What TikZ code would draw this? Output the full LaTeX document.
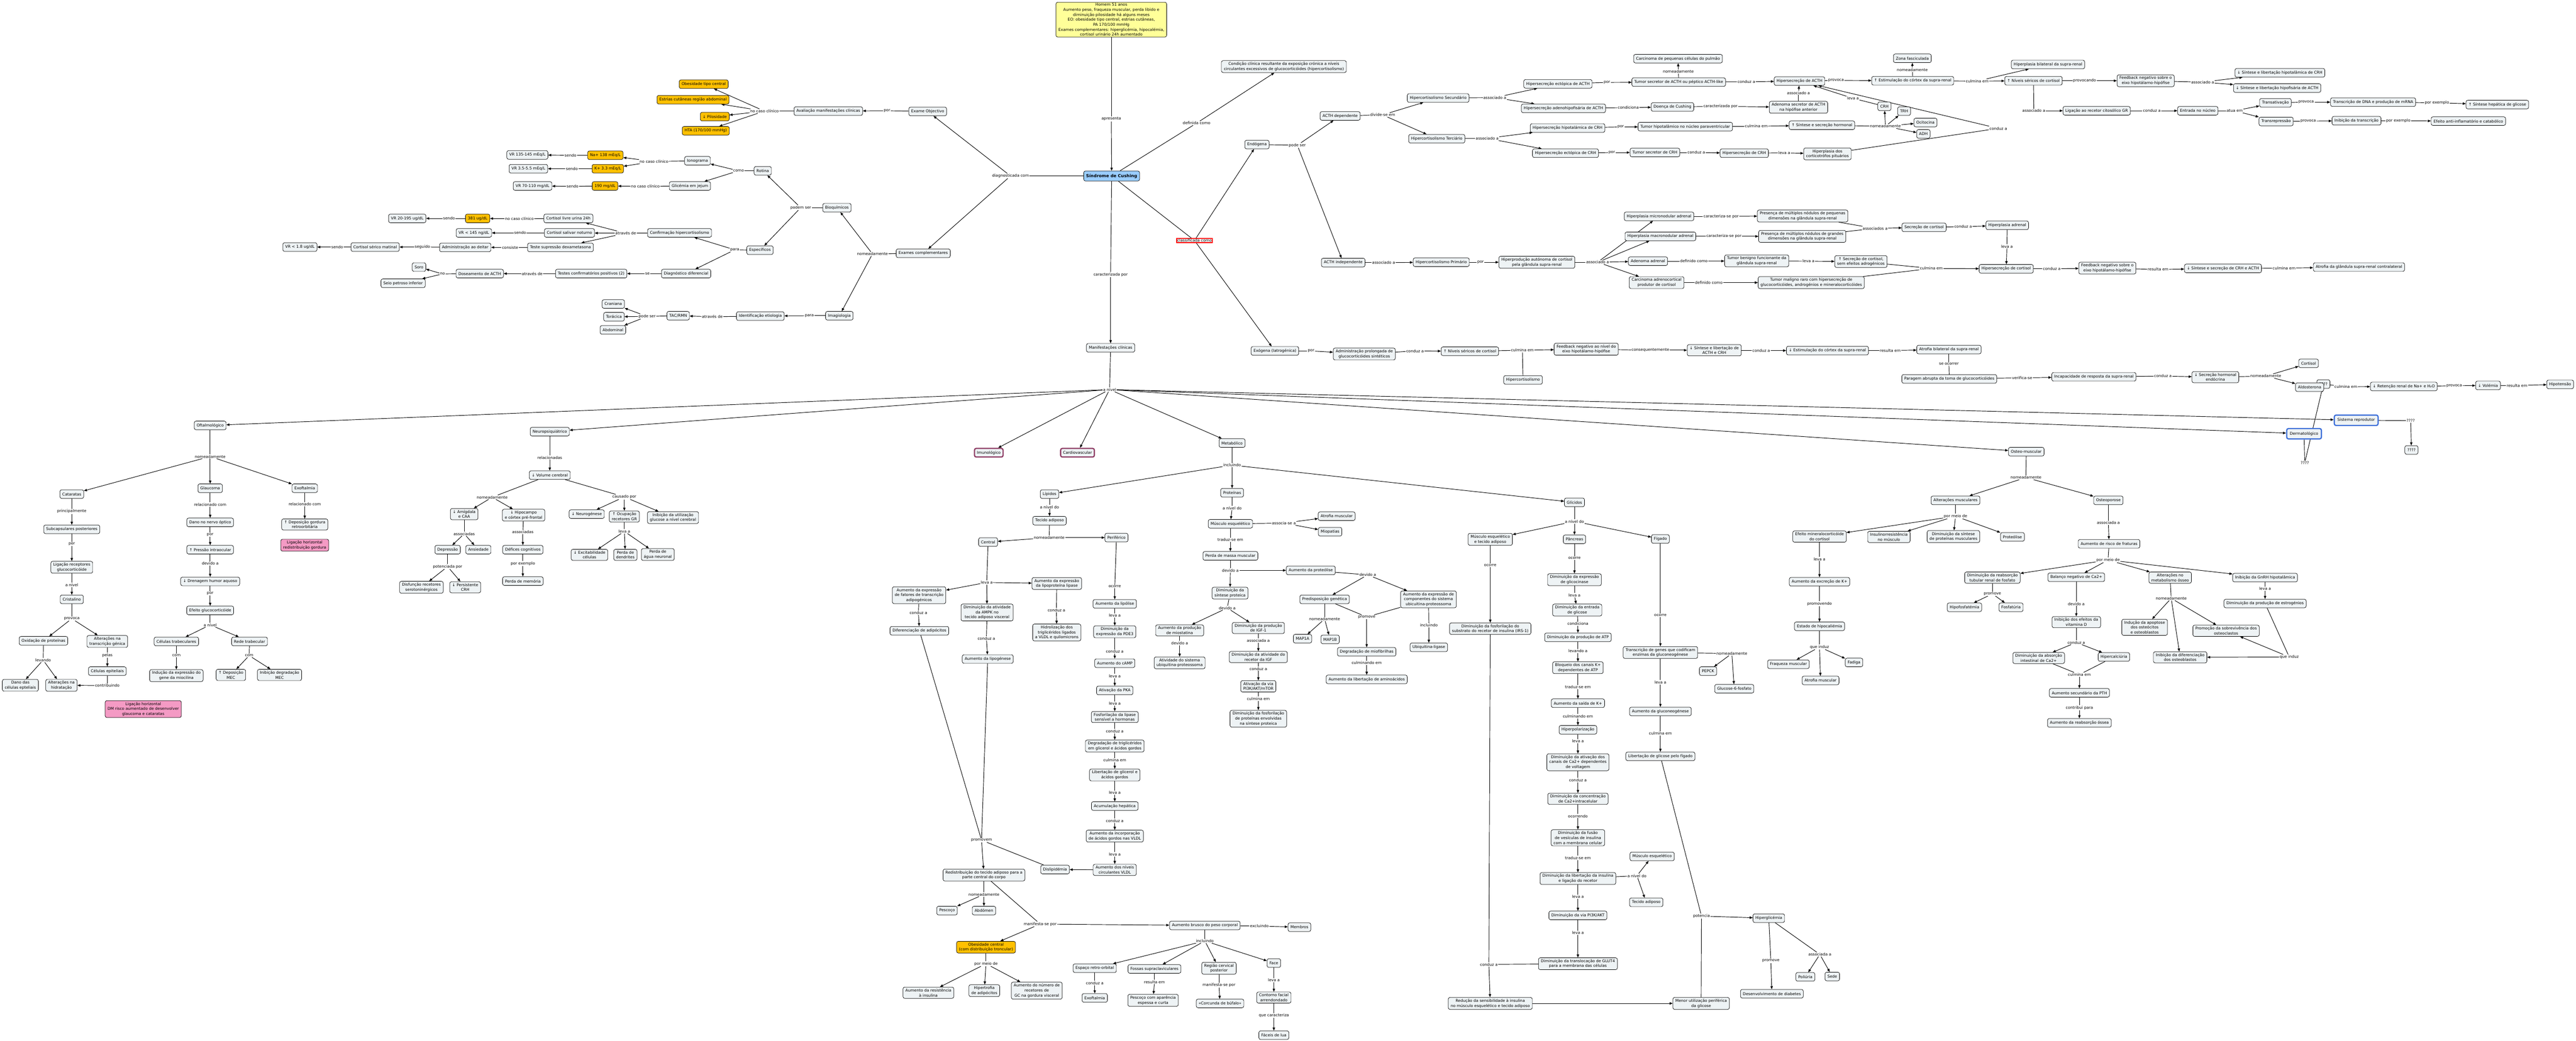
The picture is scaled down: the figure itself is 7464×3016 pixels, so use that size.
\documentclass[tikz,border=0pt]{standalone}
\usepackage{fontspec}
\setmainfont{DejaVu Sans}
\usetikzlibrary{arrows.meta}
\definecolor{cfill}{HTML}{EEF3F5}
\definecolor{cyel}{HTML}{FFC000}
\definecolor{ccase}{HTML}{FFFF99}
\definecolor{cblue}{HTML}{99CCFF}
\definecolor{cpink}{HTML}{F49AC4}
\definecolor{cpurp}{HTML}{8E3B63}
\definecolor{cbord}{HTML}{3D6FD9}
\pgfdeclarelayer{bg}\pgfsetlayers{bg,main}
\newcommand\mylink[3]{\draw (#1) -- (#2);\foreach \tgt in {#3}{\draw[ar] (#2) -- (\tgt);}}
\newcommand\myline[2]{\foreach \src in {#1}{\draw (\src) -- (#2);}}
\tikzset{
 every node/.style={font=\fontsize{3.2}{4.1}\selectfont, text=black},
 c/.style={draw, rounded corners=0.05cm, fill=cfill, inner xsep=0.07cm, inner ysep=0.045cm, minimum height=0.25cm, align=center, line width=0.3pt},
 yel/.style={c, fill=cyel},
 pk/.style={c, fill=cpink},
 pur/.style={c, draw=cpurp, line width=1pt},
 blu/.style={c, draw=cbord, line width=1pt, inner xsep=0.09cm, minimum height=0.3cm},
 lb/.style={inner sep=0.012cm, fill=white, align=center},
 ar/.style={-{Triangle[length=0.09cm,width=0.07cm]}},
}
\begin{document}
\begin{tikzpicture}[x=0.01cm,y=-0.01cm,line width=0.28pt]
\useasboundingbox (0,0) rectangle (7464,3016);
\begin{pgfonlayer}{bg}\fill[white] (0,0) rectangle (7464,3016);\end{pgfonlayer}
% ---------- top centre
\node[c, fill=ccase, inner ysep=0.03cm] (case) at (3220,57) {Homem 51 anos\\Aumento peso, fraqueza muscular, perda libido e\\diminuição pilosidade há alguns meses\\EO: obesidade tipo central, estrias cutâneas,\\PA 170/100 mmHg\\Exames complementares: hiperglicémia, hipocalémia,\\cortisol urinário 24h aumentado};
\node[c, fill=cblue, font=\fontsize{3.5}{4.2}\selectfont\bfseries, minimum height=0.29cm] (sc) at (3221,510) {Síndrome de Cushing};
\node[c] (cond) at (3720,193) {Condição clínica resultante da exposição crónica a níveis\\circulantes excessivos de glucocorticóides (hipercortisolismo)};
\node[lb] (Lapr) at (3220,345) {apresenta};
\node[lb] (Ldef) at (3467,357) {definida como};
\node[lb] (Ldiag) at (2928,510) {diagnosticada com};
\node[lb, draw=red, line width=0.9pt] (Lclass) at (3461,697) {classificada como};
\node[lb] (Lcar) at (3218,796) {caracterizada por};
\node[c] (manif) at (3218,1008) {Manifestações clínicas};
\node[lb] (Laniv) at (3215,1129) {a nível};
% ---------- diagnosis
\node[c] (examobj) at (2688,323) {Exame Objectivo};
\node[c] (examcomp) at (2675,734) {Exames complementares};
\node[lb] (Lpor0) at (2570,321) {por};
\node[c] (avalia) at (2400,322) {Avaliação manifestações clínicas};
\node[lb] (Lncc0) at (2215,322) {no caso clínico};
\node[yel] (obes) at (2039,244) {Obesidade tipo central};
\node[yel] (estr) at (2008,289) {Estrias cutâneas região abdominal};
\node[yel] (pilo) at (2071,338) {↓ Pilosidade};
\node[yel] (hta) at (2045,379) {HTA (170/100 mmHg)};
\node[lb] (Lnomd) at (2528,736) {nomeadamente};
\node[c] (bioq) at (2425,602) {Bioquímicos};
\node[c] (imag) at (2432,915) {Imagiologia};
\node[lb] (Lpodem) at (2320,602) {podem ser};
\node[c] (rotina) at (2210,495) {Rotina};
\node[c] (espec) at (2202,725) {Específicos};
\node[lb] (Lcomo) at (2140,495) {como};
\node[c] (iono) at (2021,466) {Ionograma};
\node[c] (glic) at (1999,539) {Glicémia em jejum};
\node[lb] (Lncc1) at (1895,468) {no caso clínico};
\node[yel] (na) at (1754,450) {Na+ 138 mEq/L};
\node[yel] (kk) at (1761,489) {K+ 3.3 mEq/L};
\node[lb] (Ls1) at (1653,450) {sendo};
\node[c] (vrna) at (1528,449) {VR 135-145 mEq/L};
\node[lb] (Ls2) at (1657,489) {sendo};
\node[c] (vrk) at (1531,489) {VR 3.5-5.5 mEq/L};
\node[lb] (Lncc2) at (1870,540) {no caso clínico};
\node[yel] (g190) at (1753,539) {190 mg/dL};
\node[lb] (Ls3) at (1659,540) {sendo};
\node[c] (vrg) at (1543,539) {VR 70-110 mg/dL};
\node[lb] (Lpara1) at (2129,724) {para};
\node[c] (confh) at (1969,675) {Confirmação hipercortisolismo};
\node[c] (diagd) at (1988,793) {Diagnóstico diferencial};
\node[lb] (Latr1) at (1813,676) {através de};
\node[c] (clu) at (1647,633) {Cortisol livre urina 24h};
\node[c] (csn) at (1650,675) {Cortisol salivar noturno};
\node[c] (tsd) at (1624,717) {Teste supressão dexametasona};
\node[lb] (Lncc3) at (1505,634) {no caso clínico};
\node[yel] (c381) at (1384,633) {381 ug/dL};
\node[lb] (Ls4) at (1301,633) {sendo};
\node[c] (vr20) at (1180,633) {VR 20-195 ug/dL};
\node[lb] (Ls5) at (1507,675) {sendo};
\node[c] (vr145) at (1373,675) {VR < 145 ng/dL};
\node[lb] (Lcons) at (1478,717) {consiste};
\node[c] (adm) at (1348,717) {Administração ao deitar};
\node[lb] (Lseg) at (1224,716) {seguido};
\node[c] (csm) at (1087,716) {Cortisol sérico matinal};
\node[lb] (Ls6) at (977,716) {sendo};
\node[c] (vr18) at (869,716) {VR < 1.8 ug/dL};
\node[lb] (Lse) at (1876,793) {se};
\node[c] (tcp) at (1713,793) {Testes confirmatórios positivos (2)};
\node[lb] (Latr2) at (1542,793) {através de};
\node[c] (dacth) at (1390,793) {Doseamento de ACTH};
\node[lb] (Lno) at (1282,794) {no};
\node[c] (soro) at (1214,774) {Soro};
\node[c] (seio) at (1168,821) {Seio petroso inferior};
\node[lb] (Lpara2) at (2345,915) {para};
\node[c] (idet) at (2203,916) {Identificação etiologia};
\node[lb] (Latr3) at (2064,918) {através de};
\node[c] (tac) at (1965,915) {TAC/RMN};
\node[lb] (Lpode2) at (1875,917) {pode ser};
\node[c] (cran) at (1777,881) {Craniana};
\node[c] (tora) at (1779,918) {Torácica};
\node[c] (abdo) at (1776,956) {Abdominal};
% ---------- classification
\node[c] (endo) at (3642,419) {Endógena};
\node[lb] (Lpode1) at (3759,421) {pode ser};
\node[c] (acthd) at (3883,336) {ACTH dependente};
\node[c] (acthi) at (3892,761) {ACTH independente};
\node[c] (exo) at (3694,1017) {Exógena (Iatrogénica)};
\node[lb] (Ldiv) at (4006,333) {divide-se em};
\node[c] (hsec) at (4167,284) {Hipercortisolismo Secundário};
\node[c] (hter) at (4163,402) {Hipercortisolismo Terciário};
\node[lb] (Las1) at (4331,283) {associado a};
\node[c] (hea) at (4514,243) {Hipersecreção ectópica de ACTH};
\node[c] (hah) at (4530,314) {Hipersecreção adenohipofisária de ACTH};
\node[lb] (Lpor1) at (4656,239) {por};
\node[c] (tsa) at (4864,238) {Tumor secretor de ACTH ou péptico ACTH-like};
\node[lb] (Lnom1) at (4863,207) {nomeadamente};
\node[c] (carc) at (4862,170) {Carcinoma de pequenas células do pulmão};
\node[lb] (Lcz1) at (5060,237) {conduz a};
\node[c] (hacth) at (5214,235) {Hipersecreção de ACTH};
\node[lb] (Lprov) at (5320,233) {provoca};
\node[c] (estc) at (5542,234) {↑ Estimulação do córtex da supra-renal};
\node[lb] (Lnom2) at (5541,202) {nomeadamente};
\node[c] (zf) at (5541,169) {Zona fasciculada};
\node[lb] (Lcul1) at (5729,235) {culmina em};
\node[c] (hbil) at (5934,187) {Hiperplasia bilateral da supra-renal};
\node[c] (nsc) at (5892,234) {↑ Níveis séricos de cortisol};
\node[lb] (Lcond) at (4718,312) {condiciona};
\node[c] (dcush) at (4846,310) {Doença de Cushing};
\node[lb] (Lcarp) at (4985,308) {caracterizada por};
\node[c] (adsec) at (5211,311) {Adenoma secretor de ACTH\\na hipófise anterior};
\node[lb] (Las2) at (5211,269) {associado a};
\node[lb] (Las3) at (4309,401) {associado a};
\node[c] (hhc) at (4542,371) {Hipersecreção hipotalámica de CRH};
\node[c] (hec) at (4536,444) {Hipersecreção ectópica de CRH};
\node[lb] (Lpor2) at (4696,368) {por};
\node[c] (thip) at (4883,367) {Tumor hipotalâmico no núcleo paraventricular};
\node[lb] (Lcul2) at (5089,366) {culmina em};
\node[c] (ssh) at (5279,363) {↑ Síntese e secreção hormonal};
\node[lb] (Lnom3) at (5463,366) {nomeadamente};
\node[c] (crh) at (5460,308) {CRH};
\node[c] (trh) at (5517,322) {TRH};
\node[c] (oci) at (5579,355) {Ocitocina};
\node[c] (adh) at (5573,388) {ADH};
\node[lb] (Lleva1) at (5369,285) {leva a};
\node[lb] (Lpor3) at (4670,442) {por};
\node[c] (tsc) at (4795,442) {Tumor secretor de CRH};
\node[lb] (Lcz2) at (4915,442) {conduz a};
\node[c] (hcrh) at (5054,444) {Hipersecreção de CRH};
\node[lb] (Lleva2) at (5170,443) {leva a};
\node[c] (hcort) at (5295,446) {Hiperplasia dos\\corticotrófos pituários};
\node[lb] (Lcz3) at (5790,372) {conduz a};
% right top
\node[lb] (Lprovd) at (6040,234) {provocando};
\node[c] (fbn1) at (6217,234) {Feedback negativo sobre o\\eixo hipotálamo-hipófise};
\node[lb] (Las4) at (6382,238) {associado a};
\node[c] (scrh) at (6606,211) {↓ Síntese e libertação hipotalâmica de CRH};
\node[c] (sacth) at (6598,255) {↓ Síntese e libertação hipofisária de ACTH};
\node[lb] (Las5) at (5893,321) {associado a};
\node[c] (lgr) at (6075,321) {Ligação ao recetor citosólico GR};
\node[lb] (Lcz4) at (6235,321) {conduz a};
\node[c] (ent) at (6368,321) {Entrada no núcleo};
\node[lb] (Latua) at (6475,321) {atua em};
\node[c] (tat) at (6593,298) {Transativação};
\node[c] (trep) at (6595,352) {Transrepressão};
\node[lb] (Lprov2) at (6682,296) {provoca};
\node[c] (tdna) at (6876,296) {Transcrição de DNA e produção de mRNA};
\node[lb] (Lpex1) at (7061,298) {por exemplo};
\node[c] (shg) at (7236,303) {↑ Síntese hepática de glicose};
\node[lb] (Lprov3) at (6688,351) {provoca};
\node[c] (itr) at (6828,350) {Inibição da transcrição};
\node[lb] (Lpex2) at (6949,350) {por exemplo};
\node[c] (efai) at (7152,351) {Efeito anti-inflamatório e catabólico};
% ACTH independente
\node[lb] (Las6) at (4009,761) {associado a};
\node[c] (hprim) at (4176,760) {Hipercortisolismo Primário};
\node[lb] (Lpor4) at (4290,760) {por};
\node[c] (hauto) at (4453,760) {Hiperprodução autónoma de cortisol\\pela glândula supra-renal};
\node[lb] (Las7) at (4629,760) {associado a};
\node[c] (hmic) at (4807,627) {Hiperplasia micronodular adrenal};
\node[c] (hmac) at (4811,685) {Hiperplasia macronodular adrenal};
\node[c] (adad) at (4775,757) {Adenoma adrenal};
\node[c] (carad) at (4800,819) {Carcinoma adrenocortical\\produtor de cortisol};
\node[lb] (Lcp1) at (4987,627) {caracteriza-se por};
\node[c] (pmp) at (5223,626) {Presença de múltiplos nódulos de pequenas\\dimensões na glândula supra-renal};
\node[lb] (Lcp2) at (4995,685) {caracteriza-se por};
\node[c] (pmg) at (5222,685) {Presença de múltiplos nódulos de grandes\\dimensões na glândula supra-renal};
\node[lb] (Lassd) at (5433,662) {associados a};
\node[c] (secc) at (5575,659) {Secreção de cortisol};
\node[lb] (Lcz5) at (5688,657) {conduz a};
\node[c] (hadr) at (5816,653) {Hiperplasia adrenal};
\node[lb] (Lleva3) at (5815,714) {leva a};
\node[c] (hsc) at (5813,779) {Hipersecreção de cortisol};
\node[lb] (Ldc1) at (4908,757) {definido como};
\node[c] (tbf) at (5090,756) {Tumor benigno funcionante da\\glândula supra-renal};
\node[lb] (Lleva4) at (5240,757) {leva a};
\node[c] (sec2) at (5392,758) {↑ Secreção de cortisol,\\sem efeitos adrogénicos};
\node[lb] (Ldc2) at (4951,819) {definido como};
\node[c] (tmr) at (5248,819) {Tumor maligno raro com hipersecreção de\\glucocorticóides, androgénios e mineralocorticóides};
\node[lb] (Lcul3) at (5596,778) {culmina em};
\node[lb] (Lcz6) at (5945,779) {conduz a};
\node[c] (fbn2) at (6106,777) {Feedback negativo sobre o\\eixo hipotálamo-hipófise};
\node[lb] (Lres1) at (6253,781) {resulta em};
\node[c] (sscrh) at (6441,778) {↓ Síntese e secreção de CRH e ACTH};
\node[lb] (Lcul4) at (6618,777) {culmina em};
\node[c] (atc) at (6835,774) {Atrofia da glândula supra-renal contralateral};
% exogena
\node[lb] (Lpor5) at (3799,1017) {por};
\node[c] (admp) at (3953,1026) {Administração prolongada de\\glucocorticóides sintéticos};
\node[lb] (Lcz7) at (4100,1017) {conduz a};
\node[c] (nsc2) at (4259,1018) {↑ Níveis séricos de cortisol};
\node[lb] (Lcul5) at (4411,1015) {culmina em};
\node[c] (hiperc) at (4413,1101) {Hipercortisolismo};
\node[c] (fbn3) at (4596,1012) {Feedback negativo ao nível do\\eixo hipotálamo-hipófise};
\node[lb] (Lconseq) at (4782,1015) {consequentemente};
\node[c] (sla) at (4967,1015) {↓ Síntese e libertação de\\ACTH e CRH};
\node[lb] (Lcz8) at (5103,1016) {conduz a};
\node[c] (estd) at (5295,1016) {↓ Estimulação do córtex da supra-renal};
\node[lb] (Lres2) at (5477,1016) {resulta em};
\node[c] (atb) at (5647,1013) {Atrofia bilateral da supra-renal};
\node[lb] (Lseo) at (5647,1055) {se ocorrer};
\node[c] (parag) at (5648,1098) {Paragem abrupta da toma de glucocorticóides};
\node[lb] (Lver) at (5859,1095) {verifica-se};
\node[c] (incap) at (6067,1092) {Incapacidade de resposta da supra-renal};
\node[lb] (Lcz9) at (6267,1090) {conduz a};
\node[c] (shend) at (6419,1093) {↓ Secreção hormonal\\endócrina};
\node[lb] (Lnom4) at (6565,1090) {nomeadamente};
\node[c] (cortl) at (6689,1053) {Cortisol};
\node[c] (qq1) at (6732,1113) {????};
\node[c] (aldo) at (6692,1122) {Aldosterona};
\node[lb] (Lculm6) at (6797,1121) {culmina em};
\node[c] (ret) at (6965,1120) {↓ Retenção renal de Na+ e H₂O};
\node[lb] (Lprov4) at (7111,1118) {provoca};
\node[c] (vol) at (7209,1117) {↓ Volémia};
\node[lb] (Lresu) at (7293,1117) {resulta em};
\node[c] (hipot) at (7418,1114) {Hipotensão};
\node[blu] (derm) at (6676,1257) {Dermatológico};
\node[blu] (sisrep) at (6827,1218) {Sistema reprodutor};
\node[lb] (Lq2) at (6678,1341) {????};
\node[lb] (Lq3) at (6985,1219) {????};
\node[c] (qq4) at (6987,1304) {????};
% ---------- systems
\node[c] (oft) at (609,1233) {Oftalmológico};
\node[c] (neuro) at (1593,1251) {Neuropsiquiátrico};
\node[pur] (imuno) at (2865,1312) {Imunológico};
\node[pur] (cardio) at (3122,1312) {Cardiovascular};
\node[c] (metab) at (3570,1284) {Metabólico};
\node[c] (osteo) at (5871,1309) {Osteo-muscular};
% oftalmologico
\node[lb] (Lnom5) at (609,1323) {nomeadamente};
\node[c] (catar) at (208,1432) {Cataratas};
\node[c] (glauc) at (609,1415) {Glaucoma};
\node[c] (exof) at (883,1415) {Exoftalmia};
\node[lb] (Lprin) at (208,1482) {principalmente};
\node[c] (subc) at (208,1534) {Subcapsulares posteriores};
\node[lb] (Lpor6) at (208,1576) {por};
\node[c] (lrg) at (208,1644) {Ligação receptores\\glucocorticóide};
\node[lb] (Laniv2) at (208,1695) {a nível};
\node[c] (crist) at (208,1737) {Cristalino};
\node[lb] (Lprovc) at (208,1793) {provoca};
\node[c] (oxi) at (126,1857) {Oxidação de proteínas};
\node[c] (atg) at (311,1859) {Alterações na\\transcrição génica};
\node[lb] (Llev) at (125,1913) {levando};
\node[c] (dano) at (59,1986) {Dano das\\células epteliais};
\node[c] (ahid) at (178,1986) {Alterações na\\hidratação};
\node[lb] (Lpelas) at (311,1899) {pelas};
\node[c] (cepi) at (311,1945) {Células epiteliais};
\node[lb] (Lcontr) at (311,1987) {contribuindo};
\node[pk] (pink1) at (415,2055) {Ligação horizontal\\DM risco aumentado de desenvolver\\glaucoma e cataratas};
\node[lb] (Lrel1) at (609,1462) {relacionado com};
\node[c] (dno) at (609,1514) {Dano no nervo óptico};
\node[lb] (Lpor7) at (609,1550) {por};
\node[c] (pio) at (609,1593) {↑ Pressão intraocular};
\node[lb] (Ldev1) at (609,1633) {devido a};
\node[c] (dha) at (609,1685) {↓ Drenagem humor aquoso};
\node[lb] (Lpor8) at (609,1720) {por};
\node[c] (egc) at (609,1769) {Efeito glucocorticóide};
\node[lb] (Laniv3) at (609,1811) {a nível};
\node[c] (ctrab) at (511,1859) {Células trabeculares};
\node[c] (rtrab) at (723,1859) {Rede trabecular};
\node[lb] (Lcom1) at (511,1900) {com};
\node[c] (iem) at (511,1958) {Indução da expressão do\\gene da miocilina};
\node[lb] (Lcom2) at (722,1900) {com};
\node[c] (dmec) at (669,1956) {↑ Deposição\\MEC};
\node[c] (idmec) at (810,1956) {Inibição degradação\\MEC};
\node[lb] (Lrel2) at (883,1461) {relacionado com};
\node[c] (dgr) at (883,1520) {↑ Deposição gordura\\retroorbitária};
\node[pk] (pink2) at (883,1580) {Ligação horizontal\\redistribuição gordura};
% neuro
\node[lb] (Lrelc) at (1593,1326) {relacionadas};
\node[c] (vcer) at (1593,1377) {↓ Volume cerebral};
\node[lb] (Lnom6) at (1426,1441) {nomeadamente};
\node[c] (amig) at (1345,1490) {↓ Amígdala\\e CAA};
\node[c] (hipo) at (1517,1493) {↓ Hipocampo\\e córtex pré-frontal};
\node[lb] (Lcaus) at (1809,1440) {causado por};
\node[c] (neurog) at (1700,1490) {↓ Neurogénese};
\node[c] (ocup) at (1809,1497) {↑ Ocupação\\recetores GR};
\node[c] (iug) at (1950,1500) {Inibição da utilização\\glucose a nível cerebral};
\node[lb] (Lassc1) at (1345,1547) {associadas};
\node[c] (depr) at (1297,1593) {Depressão};
\node[c] (ansi) at (1386,1593) {Ansiedade};
\node[lb] (Lassc2) at (1515,1542) {associadas};
\node[c] (defc) at (1515,1593) {Défices cognitivos};
\node[lb] (Lpex3) at (1515,1633) {por exemplo};
\node[c] (pmem) at (1515,1684) {Perda de memória};
\node[lb] (Lpot) at (1297,1642) {potenciada por};
\node[c] (dfs) at (1221,1702) {Disfunção recetores\\serotoninérgicos};
\node[c] (pcrh) at (1348,1702) {↓ Persistente\\CRH};
\node[lb] (Lleva5) at (1809,1540) {leva a};
\node[c] (exc) at (1708,1608) {↓ Excitabilidade\\células};
\node[c] (pdend) at (1812,1608) {Perda de\\dendrites};
\node[c] (pagua) at (1906,1607) {Perda de\\água neuronal};
% metabolico
\node[lb] (Lincl) at (3570,1348) {incluindo};
\node[c] (lip) at (3041,1432) {Lípidos};
\node[c] (prot) at (3570,1428) {Proteínas};
\node[c] (glicd) at (4562,1456) {Glícidos};
\node[lb] (Lanv4) at (3041,1469) {a nível do};
\node[c] (tad) at (3041,1509) {Tecido adiposo};
\node[lb] (Lnom7) at (3040,1558) {nomeadamente};
\node[c] (central) at (2863,1571) {Central};
\node[c] (perif) at (3235,1558) {Periférico};
\node[lb] (Lr1) at (2859,1688) {leva a};
\node[c] (aeft) at (2663,1725) {Aumento da expressão\\de fatores de transcrição\\adipogénicos};
\node[c] (alpl) at (3062,1691) {Aumento da expressão\\da lipoproteína lipase};
\node[c] (ampk) at (2860,1775) {Diminuição da atividade\\da AMPK no\\tecido adiposo visceral};
\node[lb] (Lr2) at (2661,1776) {conduz a};
\node[c] (difa) at (2664,1828) {Diferenciação de adipócitos};
\node[lb] (Lr3) at (2858,1850) {conduz a};
\node[c] (lipog) at (2862,1910) {Aumento da lipogénese};
\node[lb] (Lr4) at (3061,1768) {conduz a};
\node[c] (hidr) at (3062,1833) {Hidrolização dos\\triglicéridos ligados\\a VLDL e quilomicrons};
\node[lb] (Lq1) at (3230,1700) {ocorre};
\node[c] (alip) at (3230,1750) {Aumento da lipólise};
\node[lb] (Lq2b) at (3230,1784) {leva a};
\node[c] (pde3) at (3230,1831) {Diminuição da\\expressão da PDE3};
\node[lb] (Lq3b) at (3230,1888) {conduz a};
\node[c] (camp) at (3230,1922) {Aumento do cAMP};
\node[lb] (Lq4) at (3230,1959) {leva a};
\node[c] (pka) at (3230,2001) {Ativação da PKA};
\node[lb] (Lq5) at (3230,2039) {leva a};
\node[c] (flsh) at (3230,2078) {Fosforilação da lipase\\sensível a hormonas};
\node[lb] (Lq6) at (3230,2119) {conduz a};
\node[c] (dtg) at (3230,2162) {Degradação de triglicéridos\\em glicerol e ácidos gordos};
\node[lb] (Lq7) at (3230,2203) {culmina em};
\node[c] (lgag) at (3230,2246) {Libertação de glicerol e\\ácidos gordos};
\node[lb] (Lq8) at (3230,2297) {leva a};
\node[c] (ahep) at (3230,2336) {Acumulação hepática};
\node[lb] (Lq9) at (3230,2379) {conduz a};
\node[c] (aiag) at (3230,2423) {Aumento da incorporação\\de ácidos gordos nas VLDL};
\node[lb] (Lq10) at (3230,2476) {leva a};
\node[c] (anv) at (3230,2521) {Aumento dos níveis\\circulantes VLDL};
\node[c] (dislip) at (3057,2520) {Dislipidémia};
\node[lb] (Lprom) at (2844,2435) {promovem};
\node[c] (redis) at (2851,2536) {Redistribuição do tecido adiposo para a\\parte central do corpo};
\node[lb] (Lr5) at (2851,2592) {nomeadamente};
\node[c] (pesc) at (2744,2639) {Pescoço};
\node[c] (abdm) at (2851,2639) {Abdómen};
\node[lb] (Lman) at (3014,2678) {manifesta-se por};
\node[yel] (obc) at (2857,2745) {Obesidade central\\(com distribuição troncular)};
\node[c] (abpc) at (3491,2682) {Aumento brusco do peso corporal};
\node[lb] (Lpmd) at (2857,2793) {por meio de};
\node[c] (ari) at (2690,2877) {Aumento da resistência\\à insulina};
\node[c] (hadp) at (2852,2871) {Hipertrofia\\de adipócitos};
\node[c] (anr) at (3004,2871) {Aumento do número de\\recetores de\\GC na gordura visceral};
\node[lb] (Lexcl) at (3649,2684) {excluindo};
\node[c] (membros) at (3765,2687) {Membros};
\node[lb] (Lincl2) at (3491,2727) {incluindo};
\node[c] (ero) at (3172,2806) {Espaço retro-orbital};
\node[lb] (Lt1) at (3172,2849) {conduz a};
\node[c] (exof2) at (3172,2892) {Exoftalmia};
\node[c] (fsc) at (3345,2808) {Fossas supraclaviculares};
\node[lb] (Lt2) at (3345,2846) {resulta em};
\node[c] (pesc2) at (3341,2899) {Pescoço com aparência\\espessa e curta};
\node[c] (rcp) at (3532,2806) {Região cervical\\posterior};
\node[lb] (Lt3) at (3532,2855) {manifesta-se por};
\node[c] (corc) at (3535,2908) {«Corcunda de búfalo»};
\node[c] (face) at (3691,2791) {Face};
\node[lb] (Lt4) at (3691,2841) {leva a};
\node[c] (cfa) at (3691,2891) {Contorno facial\\arrendondado};
\node[lb] (Lt5) at (3691,2943) {que caracteriza};
\node[c] (fdl) at (3691,3000) {Fáceis de lua};
% proteinas
\node[lb] (Lu1) at (3570,1472) {a nível do};
\node[c] (mesq) at (3565,1518) {Músculo esquelético};
\node[lb] (Lu2) at (3720,1516) {associa-se a};
\node[c] (atm1) at (3873,1496) {Atrofia muscular};
\node[c] (miop) at (3854,1541) {Miopatias};
\node[lb] (Lu3) at (3565,1564) {traduz-se em};
\node[c] (pmm) at (3565,1611) {Perda de massa muscular};
\node[lb] (Lu4) at (3565,1653) {devido a};
\node[c] (dsp) at (3564,1719) {Diminuição da\\síntese proteica};
\node[lb] (Lu5) at (3556,1762) {devido a};
\node[c] (apm) at (3418,1827) {Aumento da produção\\de miostatina};
\node[lb] (Lu6) at (3418,1864) {devido a};
\node[c] (asu) at (3418,1921) {Atividade do sistema\\ubiquitina-proteossoma};
\node[c] (dpi) at (3646,1820) {Diminuição da produção\\de IGF-1};
\node[lb] (Lu7) at (3646,1856) {associada a};
\node[c] (dar) at (3646,1904) {Diminuição da atividade do\\recetor da IGF};
\node[lb] (Lu8) at (3646,1938) {conduz a};
\node[c] (avia) at (3646,1989) {Ativação da via\\PI3K/AKT/mTOR};
\node[lb] (Lu9) at (3646,2025) {culmina em};
\node[c] (dfp) at (3646,2083) {Diminuição da fosforilação\\de proteínas envolvidas\\na síntese proteica};
\node[c] (aprot) at (3798,1653) {Aumento da proteólise};
\node[lb] (Lu10) at (3963,1666) {devido a};
\node[c] (pgen) at (3838,1737) {Predisposição genética};
\node[c] (aexp) at (4139,1737) {Aumento da expressão de\\componentes do sistema\\ubicuitina-proteossoma};
\node[lb] (Lu11) at (3838,1794) {nomeadamente};
\node[c] (map1a) at (3774,1851) {MAP1A};
\node[c] (map1b) at (3854,1853) {MAP1B};
\node[lb] (Lu12) at (3960,1788) {promove};
\node[c] (dmf) at (3960,1889) {Degradação de miofibrilhas};
\node[lb] (Lu13) at (3960,1921) {culminando em};
\node[c] (ala) at (3960,1969) {Aumento da libertação de aminoácidos};
\node[lb] (Lu14) at (4140,1812) {incluindo};
\node[c] (ubl) at (4140,1876) {Ubiquitina-ligase};
% glicidos
\node[lb] (Lg1) at (4562,1511) {a nível do};
\node[c] (mta) at (4318,1563) {Músculo esquelético\\e tecido adiposo};
\node[c] (panc) at (4562,1563) {Pâncreas};
\node[c] (figado) at (4811,1562) {Fígado};
\node[lb] (Lg2) at (4318,1638) {ocorre};
\node[c] (irs) at (4318,1822) {Diminuição da fosforilação do\\substrato do recetor de insulina (IRS-1)};
\node[lb] (Lp1) at (4562,1618) {ocorre};
\node[c] (dgk) at (4562,1680) {Diminuição da expressão\\de glicocinase};
\node[lb] (Lp2) at (4562,1725) {leva a};
\node[c] (deg) at (4570,1768) {Diminuição da entrada\\de glicose};
\node[lb] (Lp3) at (4572,1808) {condiciona};
\node[c] (dpatp) at (4572,1847) {Diminuição da produção de ATP};
\node[lb] (Lp4) at (4572,1887) {levando a};
\node[c] (bck) at (4572,1935) {Bloqueio dos canais K+\\dependentes de ATP};
\node[lb] (Lp5) at (4572,1991) {traduz-se em};
\node[c] (ask) at (4572,2038) {Aumento da saída de K+};
\node[lb] (Lp6) at (4572,2076) {culminando em};
\node[c] (hpol) at (4572,2115) {Hiperpolarização};
\node[lb] (Lp7) at (4572,2148) {leva a};
\node[c] (dac) at (4572,2209) {Diminuição da ativação dos\\canais de Ca2+ dependentes\\de voltagem};
\node[lb] (Lp8) at (4572,2261) {conduz a};
\node[c] (dcc) at (4572,2315) {Diminuição da concentração\\de Ca2+intracelular};
\node[lb] (Lp9) at (4572,2365) {ocorrendo};
\node[c] (dfv) at (4572,2428) {Diminuição da fusão\\de vesículas de insulina\\com a membrana celular};
\node[lb] (Lp10) at (4572,2486) {traduz-se em};
\node[c] (dli) at (4572,2546) {Diminuição da libertação da insulina\\e ligação do recetor};
\node[lb] (Lp11) at (4572,2599) {leva a};
\node[c] (dpi3) at (4572,2653) {Diminuição da via PI3K/AKT};
\node[lb] (Lp12) at (4572,2703) {leva a};
\node[c] (glut4) at (4572,2793) {Diminuição da translocação de GLUT4\\para a membrana das células};
\node[lb] (Lg3) at (4314,2795) {conduz a};
\node[c] (redsi) at (4318,2908) {Redução da sensibilidade à insulina\\no músculo esquelético e tecido adiposo};
\node[lb] (Lg4) at (4743,2538) {a nível do};
\node[c] (mesq2) at (4787,2482) {Músculo esquelético};
\node[c] (tadip) at (4770,2615) {Tecido adiposo};
\node[lb] (Lg5) at (4811,1783) {ocorre};
\node[c] (tgen) at (4811,1891) {Transcrição de genes que codificam\\enzimas da gluconeogénese};
\node[lb] (Lg6) at (5018,1894) {nomeadamente};
\node[c] (pepck) at (4949,1945) {PEPCK};
\node[c] (g6p) at (5025,1996) {Glucose-6-fosfato};
\node[lb] (Lg7) at (4811,1977) {leva a};
\node[c] (agn) at (4811,2062) {Aumento da gluconeogénese};
\node[lb] (Lg8) at (4811,2126) {culmina em};
\node[c] (lgf) at (4811,2192) {Libertação de glicose pelo fígado};
\node[lb] (Lg9) at (4930,2655) {potencia};
\node[c] (menor) at (4929,2908) {Menor utilização periférica\\da glicose};
\node[c] (hipg) at (5125,2661) {Hiperglicémia};
\node[lb] (Lg10) at (5131,2785) {promove};
\node[c] (ddiab) at (5134,2880) {Desenvolvimento de diabetes};
\node[lb] (Lg11) at (5273,2766) {associada a};
\node[c] (poli) at (5231,2831) {Poliúria};
\node[c] (sede) at (5309,2830) {Sede};
% osteo
\node[lb] (Lo1) at (5870,1384) {nomeadamente};
\node[c] (altm) at (5666,1450) {Alterações musculares};
\node[c] (osteop) at (6109,1450) {Osteoporose};
\node[lb] (Lo2) at (5666,1496) {por meio de};
\node[c] (emc) at (5272,1555) {Efeito mineralocorticóide\\do cortisol};
\node[c] (insr) at (5473,1556) {Insulinorresistência\\no músculo};
\node[c] (dspm) at (5660,1555) {Diminuição da síntese\\de proteínas musculares};
\node[c] (proteol) at (5831,1556) {Proteólise};
\node[lb] (Lm1) at (5272,1620) {leva a};
\node[c] (aek) at (5272,1686) {Aumento da excreção de K+};
\node[lb] (Lm2) at (5272,1750) {promovendo};
\node[c] (ehk) at (5272,1815) {Estado de hipocaliémia};
\node[lb] (Lm3) at (5272,1875) {que induz};
\node[c] (fraq) at (5182,1925) {Fraqueza muscular};
\node[c] (atm2) at (5275,1972) {Atrofia muscular};
\node[c] (fad) at (5372,1920) {Fadiga};
\node[lb] (Lo3) at (6109,1515) {associada a};
\node[c] (arf) at (6111,1576) {Aumento de risco de fraturas};
\node[lb] (Lo4) at (6108,1623) {por meio de};
\node[c] (drt) at (5773,1674) {Diminuição da reabsorção\\tubular renal de fosfato};
\node[c] (bnc) at (6016,1673) {Balanço negativo de Ca2+};
\node[c] (amo) at (6288,1674) {Alterações no\\metabolismo ósseo};
\node[c] (ignrh) at (6563,1674) {Inibição da GnRH hipotalâmica};
\node[lb] (Lo5) at (5773,1721) {promove};
\node[c] (hfos) at (5692,1760) {Hipofosfatémia};
\node[c] (fosf) at (5827,1760) {Fosfatúria};
\node[lb] (Lo6) at (6016,1750) {devido a};
\node[c] (iefd) at (6016,1803) {Inibição dos efeitos da\\vitamina D};
\node[lb] (Lo7) at (6016,1862) {conduz a};
\node[c] (dabs) at (5907,1907) {Diminuição da absorção\\intestinal de Ca2+};
\node[c] (hcalc) at (6125,1904) {Hipercalciúria};
\node[lb] (Lo8) at (6025,1955) {culmina em};
\node[c] (asp) at (6025,2008) {Aumento secundário da PTH};
\node[lb] (Lo9) at (6025,2051) {contribui para};
\node[c] (aro) at (6025,2095) {Aumento da reabsorção óssea};
\node[lb] (Lo10) at (6291,1734) {nomeadamente};
\node[c] (iap) at (6214,1818) {Indução da apoptose\\dos osteócitos\\e osteoblastos};
\node[c] (pso) at (6450,1828) {Promoção da sobrevivência dos\\osteoclastos};
\node[c] (idf) at (6317,1905) {Inibição da diferenciação\\dos osteoblastos};
\node[lb] (Lo11) at (6563,1706) {leva a};
\node[c] (dpe) at (6563,1749) {Diminuição da produção de estrogénios};
\node[lb] (Lo12) at (6633,1904) {que induz};
% ================= connectors
\begin{pgfonlayer}{bg}
\mylink{case}{Lapr}{sc}
\mylink{sc}{Ldef}{cond}
\mylink{sc}{Ldiag}{examobj,examcomp}
\mylink{sc}{Lclass}{endo,exo}
\mylink{sc}{Lcar}{manif}
\mylink{manif}{Laniv}{oft,neuro,imuno,cardio,metab,osteo,derm,sisrep}
\mylink{examobj}{Lpor0}{avalia}
\mylink{avalia}{Lncc0}{obes,estr,pilo,hta}
\mylink{examcomp}{Lnomd}{bioq,imag}
\mylink{bioq}{Lpodem}{rotina,espec}
\mylink{rotina}{Lcomo}{iono,glic}
\mylink{iono}{Lncc1}{na,kk}
\mylink{na}{Ls1}{vrna}
\mylink{kk}{Ls2}{vrk}
\mylink{glic}{Lncc2}{g190}
\mylink{g190}{Ls3}{vrg}
\mylink{espec}{Lpara1}{confh,diagd}
\mylink{confh}{Latr1}{clu,csn,tsd}
\mylink{clu}{Lncc3}{c381}
\mylink{c381}{Ls4}{vr20}
\mylink{csn}{Ls5}{vr145}
\mylink{tsd}{Lcons}{adm}
\mylink{adm}{Lseg}{csm}
\mylink{csm}{Ls6}{vr18}
\mylink{diagd}{Lse}{tcp}
\mylink{tcp}{Latr2}{dacth}
\mylink{dacth}{Lno}{soro,seio}
\mylink{imag}{Lpara2}{idet}
\mylink{idet}{Latr3}{tac}
\mylink{tac}{Lpode2}{cran,tora,abdo}
\mylink{endo}{Lpode1}{acthd,acthi}
\mylink{acthd}{Ldiv}{hsec,hter}
\mylink{hsec}{Las1}{hea,hah}
\mylink{hea}{Lpor1}{tsa}
\mylink{tsa}{Lnom1}{carc}
\mylink{tsa}{Lcz1}{hacth}
\mylink{hacth}{Lprov}{estc}
\mylink{estc}{Lnom2}{zf}
\mylink{estc}{Lcul1}{hbil,nsc}
\mylink{hah}{Lcond}{dcush}
\mylink{dcush}{Lcarp}{adsec}
\mylink{adsec}{Las2}{hacth}
\mylink{hter}{Las3}{hhc,hec}
\mylink{hhc}{Lpor2}{thip}
\mylink{thip}{Lcul2}{ssh}
\mylink{ssh}{Lnom3}{crh,trh,oci,adh}
\mylink{crh}{Lleva1}{hacth}
\mylink{hec}{Lpor3}{tsc}
\mylink{tsc}{Lcz2}{hcrh}
\mylink{hcrh}{Lleva2}{hcort}
\mylink{hcort}{Lcz3}{hacth}
\mylink{nsc}{Lprovd}{fbn1}
\mylink{fbn1}{Las4}{scrh,sacth}
\mylink{nsc}{Las5}{lgr}
\mylink{lgr}{Lcz4}{ent}
\mylink{ent}{Latua}{tat,trep}
\mylink{tat}{Lprov2}{tdna}
\mylink{tdna}{Lpex1}{shg}
\mylink{trep}{Lprov3}{itr}
\mylink{itr}{Lpex2}{efai}
\mylink{acthi}{Las6}{hprim}
\mylink{hprim}{Lpor4}{hauto}
\mylink{hauto}{Las7}{hmic,hmac,adad,carad}
\mylink{hmic}{Lcp1}{pmp}
\mylink{hmac}{Lcp2}{pmg}
\myline{pmp,pmg}{Lassd}\draw[ar] (Lassd) -- (secc);
\mylink{secc}{Lcz5}{hadr}
\mylink{hadr}{Lleva3}{hsc}
\mylink{adad}{Ldc1}{tbf}
\mylink{tbf}{Lleva4}{sec2}
\mylink{carad}{Ldc2}{tmr}
\myline{sec2,tmr}{Lcul3}\draw[ar] (Lcul3) -- (hsc);
\mylink{hsc}{Lcz6}{fbn2}
\mylink{fbn2}{Lres1}{sscrh}
\mylink{sscrh}{Lcul4}{atc}
\mylink{exo}{Lpor5}{admp}
\mylink{admp}{Lcz7}{nsc2}
\mylink{nsc2}{Lcul5}{fbn3}
\draw (Lcul5) -- (hiperc);
\mylink{fbn3}{Lconseq}{sla}
\mylink{sla}{Lcz8}{estd}
\mylink{estd}{Lres2}{atb}
\draw (atb) -- (Lseo);\draw (Lseo) -- (parag);
\mylink{parag}{Lver}{incap}
\mylink{incap}{Lcz9}{shend}
\mylink{shend}{Lnom4}{cortl,aldo}
\mylink{qq1}{Lculm6}{ret}
\mylink{ret}{Lprov4}{vol}
\mylink{vol}{Lresu}{hipot}
\mylink{derm}{Lq2}{qq1}
\mylink{sisrep}{Lq3}{qq4}
\mylink{oft}{Lnom5}{catar,glauc,exof}
\mylink{catar}{Lprin}{subc}
\mylink{subc}{Lpor6}{lrg}
\mylink{lrg}{Laniv2}{crist}
\mylink{crist}{Lprovc}{oxi,atg}
\mylink{oxi}{Llev}{dano,ahid}
\mylink{atg}{Lpelas}{cepi}
\mylink{cepi}{Lcontr}{ahid}
\mylink{glauc}{Lrel1}{dno}
\mylink{dno}{Lpor7}{pio}
\mylink{pio}{Ldev1}{dha}
\mylink{dha}{Lpor8}{egc}
\mylink{egc}{Laniv3}{ctrab,rtrab}
\mylink{ctrab}{Lcom1}{iem}
\mylink{rtrab}{Lcom2}{dmec,idmec}
\mylink{exof}{Lrel2}{dgr}
\mylink{neuro}{Lrelc}{vcer}
\mylink{vcer}{Lnom6}{amig,hipo}
\mylink{vcer}{Lcaus}{neurog,ocup,iug}
\mylink{amig}{Lassc1}{depr,ansi}
\mylink{hipo}{Lassc2}{defc}
\mylink{defc}{Lpex3}{pmem}
\mylink{depr}{Lpot}{dfs,pcrh}
\mylink{ocup}{Lleva5}{exc,pdend,pagua}
\mylink{metab}{Lincl}{lip,prot,glicd}
\mylink{lip}{Lanv4}{tad}
\mylink{tad}{Lnom7}{central,perif}
\mylink{central}{Lr1}{aeft,alpl,ampk}
\mylink{aeft}{Lr2}{difa}
\mylink{ampk}{Lr3}{lipog}
\mylink{alpl}{Lr4}{hidr}
\mylink{perif}{Lq1}{alip}
\mylink{alip}{Lq2b}{pde3}
\mylink{pde3}{Lq3b}{camp}
\mylink{camp}{Lq4}{pka}
\mylink{pka}{Lq5}{flsh}
\mylink{flsh}{Lq6}{dtg}
\mylink{dtg}{Lq7}{lgag}
\mylink{lgag}{Lq8}{ahep}
\mylink{ahep}{Lq9}{aiag}
\mylink{aiag}{Lq10}{anv}
\draw[ar] (anv) -- (dislip);
\myline{difa,lipog,dislip}{Lprom}\draw[ar] (Lprom) -- (redis);
\mylink{redis}{Lr5}{pesc,abdm}
\mylink{redis}{Lman}{obc,abpc}
\mylink{obc}{Lpmd}{ari,hadp,anr}
\mylink{abpc}{Lexcl}{membros}
\mylink{abpc}{Lincl2}{ero,fsc,rcp,face}
\mylink{ero}{Lt1}{exof2}
\mylink{fsc}{Lt2}{pesc2}
\mylink{rcp}{Lt3}{corc}
\mylink{face}{Lt4}{cfa}
\mylink{cfa}{Lt5}{fdl}
\mylink{prot}{Lu1}{mesq}
\mylink{mesq}{Lu2}{atm1,miop}
\mylink{mesq}{Lu3}{pmm}
\mylink{pmm}{Lu4}{dsp,aprot}
\mylink{dsp}{Lu5}{apm,dpi}
\mylink{apm}{Lu6}{asu}
\mylink{dpi}{Lu7}{dar}
\mylink{dar}{Lu8}{avia}
\mylink{avia}{Lu9}{dfp}
\mylink{aprot}{Lu10}{pgen,aexp}
\mylink{pgen}{Lu11}{map1a,map1b}
\myline{pgen,aexp}{Lu12}\draw[ar] (Lu12) -- (dmf);
\mylink{dmf}{Lu13}{ala}
\mylink{aexp}{Lu14}{ubl}
\mylink{glicd}{Lg1}{mta,panc,figado}
\mylink{mta}{Lg2}{irs}
\mylink{panc}{Lp1}{dgk}
\mylink{dgk}{Lp2}{deg}
\mylink{deg}{Lp3}{dpatp}
\mylink{dpatp}{Lp4}{bck}
\mylink{bck}{Lp5}{ask}
\mylink{ask}{Lp6}{hpol}
\mylink{hpol}{Lp7}{dac}
\mylink{dac}{Lp8}{dcc}
\mylink{dcc}{Lp9}{dfv}
\mylink{dfv}{Lp10}{dli}
\mylink{dli}{Lp11}{dpi3}
\mylink{dpi3}{Lp12}{glut4}
\myline{irs,glut4}{Lg3}\draw[ar] (Lg3) -- (redsi);
\mylink{dli}{Lg4}{mesq2,tadip}
\mylink{figado}{Lg5}{tgen}
\mylink{tgen}{Lg6}{pepck,g6p}
\mylink{tgen}{Lg7}{agn}
\mylink{agn}{Lg8}{lgf}
\myline{lgf,menor}{Lg9}\draw[ar] (Lg9) -- (hipg);
\draw[ar] (redsi) -- (menor);
\mylink{hipg}{Lg10}{ddiab}
\mylink{hipg}{Lg11}{poli,sede}
\mylink{osteo}{Lo1}{altm,osteop}
\mylink{altm}{Lo2}{emc,insr,dspm,proteol}
\mylink{emc}{Lm1}{aek}
\mylink{aek}{Lm2}{ehk}
\mylink{ehk}{Lm3}{fraq,atm2,fad}
\mylink{osteop}{Lo3}{arf}
\mylink{arf}{Lo4}{drt,bnc,amo,ignrh}
\mylink{drt}{Lo5}{hfos,fosf}
\mylink{bnc}{Lo6}{iefd}
\mylink{iefd}{Lo7}{dabs,hcalc}
\myline{dabs,hcalc}{Lo8}\draw[ar] (Lo8) -- (asp);
\mylink{asp}{Lo9}{aro}
\mylink{amo}{Lo10}{iap,pso,idf}
\mylink{ignrh}{Lo11}{dpe}
\mylink{dpe}{Lo12}{idf,pso}
\end{pgfonlayer}
\end{tikzpicture}
\end{document}
